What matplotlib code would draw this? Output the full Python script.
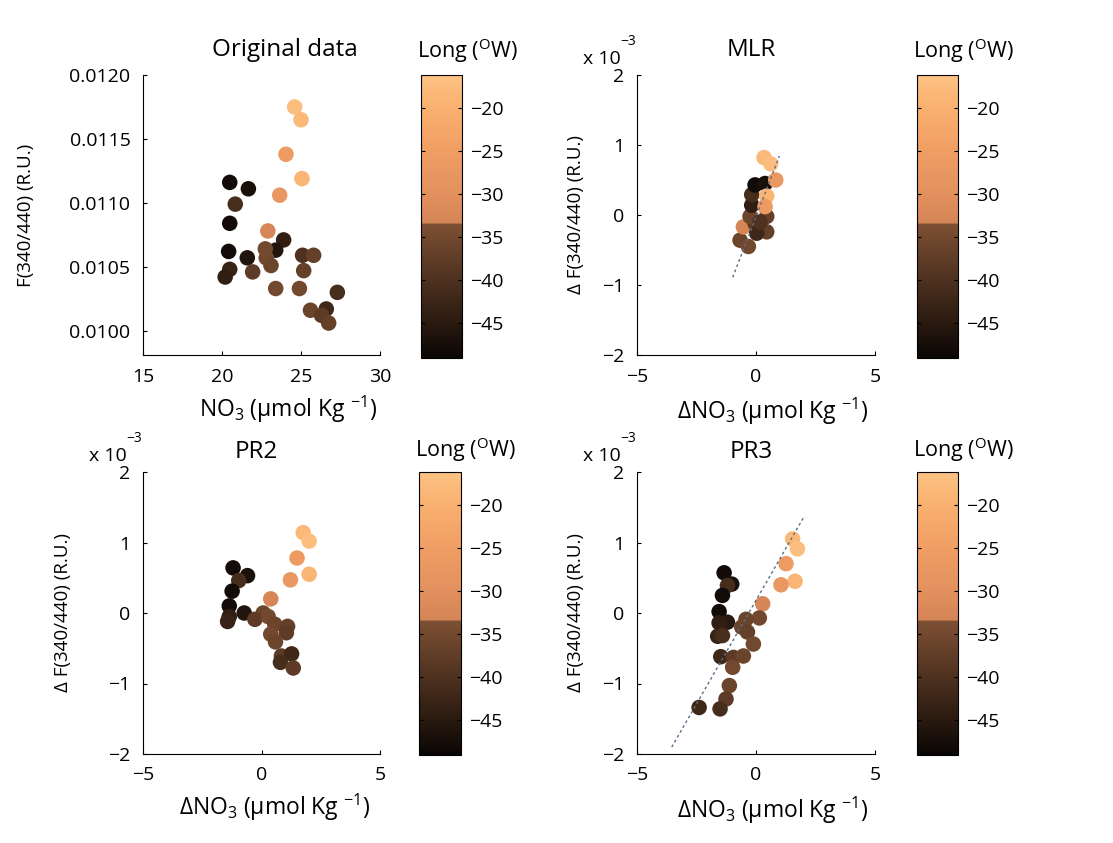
import numpy as np
import matplotlib
matplotlib.use("Agg")
import matplotlib.pyplot as plt
from matplotlib.colors import LinearSegmentedColormap

plt.rcParams["font.family"] = ["Open Sans", "DejaVu Sans"]
plt.rcParams["mathtext.default"] = "regular"
plt.rcParams["font.size"] = 14

# --- Original data: nitrate vs fluorescence ratio, coloured by longitude
no3_orig = [24.6, 25.0, 24.05, 25.06, 23.65, 20.49, 21.67, 20.84, 20.49, 22.9,
            23.9, 23.4, 22.74, 20.42, 22.8, 21.6, 23.1, 25.1, 25.8, 25.17,
            20.49, 20.2, 21.94, 23.4, 24.9, 27.3, 25.6, 26.6, 26.3, 26.75]
f_orig = [0.01175, 0.01165, 0.01138, 0.01119, 0.01106, 0.01116, 0.01111, 0.01099,
          0.01084, 0.01078, 0.01071, 0.01063, 0.01064, 0.01062, 0.01057, 0.01057,
          0.01051, 0.01059, 0.01059, 0.01047, 0.01048, 0.01042, 0.01046, 0.01033,
          0.01033, 0.01030, 0.01016, 0.01017, 0.01012, 0.01006]
lon_orig = [-17, -18, -26, -19, -27, -48, -47, -41, -48, -33, -44, -46, -35, -48, -35,
            -46, -36, -40, -37, -37, -43, -44, -38, -35, -35, -41, -36, -42, -38, -37]

# --- MLR residuals (x1e-3 for fluorescence)
dno3_mlr = [-0.67, -0.32, -0.53, -0.04, 0.45, -0.25, 0.45, 0.03, 0.17, -0.18,
            -0.18, -0.04, 0.38, 0.45, 0.38, 0.83, 0.34, 0.62]
df_mlr = [-0.36, -0.45, -0.17, -0.12, -0.24, -0.02, -0.02, -0.26, -0.10, 0.14,
          0.29, 0.43, 0.45, 0.27, 0.12, 0.50, 0.82, 0.73]
lon_mlr = [-36, -35, -33, -38, -37, -36, -37, -42, -40, -44,
           -41, -48, -47, -19, -26, -27, -18, -17]
mlr_fit = (0.883, -0.025)        # slope, intercept
mlr_fit_x = (-0.98, 0.98)

# --- PR2 residuals
dno3_pr2 = [1.76, 2.01, 1.5, 2.01, 1.22, -1.2, -0.59, -0.96, -1.24, 0.39, -1.36, -0.73,
            -1.36, -1.43, 0.07, -0.28, 0.28, 0.56, 1.1, 1.05, 0.39, 0.59, 0.84, 1.27,
            0.8, 1.34]
df_pr2 = [1.14, 1.02, 0.78, 0.55, 0.47, 0.64, 0.53, 0.46, 0.31, 0.20, 0.10, 0.0,
          -0.05, -0.12, 0.0, -0.09, -0.05, -0.16, -0.19, -0.28, -0.30, -0.41, -0.61,
          -0.58, -0.70, -0.78]
lon_pr2 = [-18, -17, -26, -19, -27, -48, -47, -41, -48, -33, -48, -46, -44, -43, -36,
           -38, -35, -36, -37, -38, -35, -36, -38, -42, -41, -38]

# --- PR3 residuals
dno3_pr3 = [1.54, 1.74, 1.26, 1.64, 1.05, -1.34, -1.02, -1.2, -1.41, 0.28, -1.55, -1.2,
            -1.55, 0.14, -0.42, -0.6, -0.36, -1.61, -1.41, -0.11, -1.48, -0.95, -0.53,
            -0.98, -1.12, -1.26, -2.39, -1.51]
df_pr3 = [1.05, 0.91, 0.70, 0.45, 0.40, 0.57, 0.41, 0.39, 0.25, 0.13, 0.02, -0.13,
          -0.14, -0.07, -0.09, -0.20, -0.27, -0.33, -0.32, -0.44, -0.62, -0.63, -0.61,
          -0.77, -1.03, -1.22, -1.34, -1.36]
lon_pr3 = [-18, -17, -26, -19, -27, -48, -47, -41, -48, -33, -48, -45, -44, -35, -36,
           -36, -37, -43, -41, -35, -42, -38, -36, -35, -36, -38, -42, -41]
pr3_fit = (0.588, 0.18)
pr3_fit_x = (-3.54, 1.99)

LON_LIM = (-49.1, -16.2)
CB_TICKS = [-45, -40, -35, -30, -25, -20]

# copper-like map with the brighter upper half used for the eastern stations
_anchors = [(-49.1, (10, 6, 4)), (-45, (42, 26, 16)), (-40, (78, 49, 31)),
            (-33.6, (125, 80, 52)), (-33.4, (212, 133, 86)), (-30, (226, 144, 94)),
            (-25, (240, 158, 100)), (-20, (249, 176, 112)), (-16.2, (252, 194, 130))]
cmap = LinearSegmentedColormap.from_list(
    "long_copper",
    [((v - LON_LIM[0]) / (LON_LIM[1] - LON_LIM[0]), tuple(c / 255 for c in rgb))
     for v, rgb in _anchors])

W, H = 1113, 843
fig = plt.figure(figsize=(W / 100, H / 100), dpi=100)

TITLE_FS, XLAB_FS, YLAB_FS, CBLAB_FS = 17.5, 16.5, 13.5, 15.5


def px_axes(x0, y0, x1, y1):
    return fig.add_axes([x0 / W, 1 - y1 / H, (x1 - x0) / W, (y1 - y0) / H])


def style(ax):
    for s in ("top", "right"):
        ax.spines[s].set_visible(False)
    for s in ("left", "bottom"):
        ax.spines[s].set_linewidth(0.8)
    ax.tick_params(direction="in", length=3, width=0.8, pad=9, labelsize=14)


def add_colorbar(sc, x0, y0, x1, y1, lab_off):
    cax = px_axes(x0, y0, x1, y1)
    cb = fig.colorbar(sc, cax=cax, ticks=CB_TICKS)
    cb.outline.set_linewidth(0.8)
    cax.tick_params(direction="in", length=3, width=0.8, left=True, right=True,
                    labelsize=14, pad=6)
    cax.annotate("Long ($^{O}$W)", xy=(0, 1), xycoords="axes fraction",
                 xytext=(-3, lab_off), textcoords="offset points",
                 ha="left", va="baseline", fontsize=CBLAB_FS)
    return cb


def exp_label(ax):
    ax.annotate("x 10", xy=(0, 1), xycoords="axes fraction", xytext=(-12, 8),
                textcoords="offset points", ha="right", va="baseline", fontsize=14)
    ax.annotate("\u22123", xy=(0, 1), xycoords="axes fraction", xytext=(-12, 24),
                textcoords="offset points", ha="left", va="center", fontsize=10)


def scatter(ax, x, y, c):
    return ax.scatter(x, y, c=c, cmap=cmap, vmin=LON_LIM[0], vmax=LON_LIM[1],
                      s=125, linewidths=0, zorder=3)


dx_label = "\u0394NO$_3$ (\u03bcmol Kg $^{-1}$)"
dy_label = "\u0394 F(340/440) (R.U.)"

# Original data
ax1 = px_axes(143, 75, 380, 355)
sc = scatter(ax1, no3_orig, f_orig, lon_orig)
ax1.set_xlim(15, 30)
ax1.set_ylim(0.00981, 0.0120)
ax1.set_xticks([15, 20, 25, 30])
ax1.set_yticks([0.0100, 0.0105, 0.0110, 0.0115, 0.0120])
ax1.set_yticklabels([f"{v:.4f}" for v in [0.0100, 0.0105, 0.0110, 0.0115, 0.0120]])
ax1.set_title("Original data", fontsize=TITLE_FS, pad=14, x=0.6)
ax1.set_xlabel("NO$_3$ (\u03bcmol Kg $^{-1}$)", fontsize=XLAB_FS)
ax1.set_ylabel("F(340/440) (R.U.)", fontsize=YLAB_FS)
ax1.xaxis.set_label_coords(0.612, -0.14)
ax1.yaxis.set_label_coords(-0.456, 0.5)
style(ax1)
add_colorbar(sc, 421, 75, 462, 358, 12)

panels = [
    ((637, 75, 875, 355), (917, 75, 958, 358), "MLR", dno3_mlr, df_mlr, lon_mlr,
     mlr_fit, mlr_fit_x, 14, 12),
    ((143, 472, 380, 754), (419, 472, 461, 755), "PR2", dno3_pr2, df_pr2, lon_pr2,
     None, None, 10, 11),
    ((637, 472, 875, 754), (917, 472, 958, 755), "PR3", dno3_pr3, df_pr3, lon_pr3,
     pr3_fit, pr3_fit_x, 10, 11),
]

for box, cbox, title, x, y, lon, fit, fit_x, tpad, cpad in panels:
    ax = px_axes(*box)
    sc = scatter(ax, x, y, lon)
    if fit is not None:
        xs = np.array(fit_x)
        ax.plot(xs, fit[0] * xs + fit[1], linestyle=(0, (2, 2)), lw=1,
                color="#5a6f8c", zorder=4)
    ax.set_xlim(-5, 5)
    ax.set_ylim(-2, 2)
    ax.set_xticks([-5, 0, 5])
    ax.set_yticks([-2, -1, 0, 1, 2])
    ax.set_title(title, fontsize=TITLE_FS, pad=tpad, x=0.48)
    ax.set_xlabel(dx_label, fontsize=XLAB_FS)
    ax.set_ylabel(dy_label, fontsize=YLAB_FS)
    if box[0] < 500:
        ax.xaxis.set_label_coords(0.557, -0.135)
        ax.yaxis.set_label_coords(-0.30, 0.5)
    else:
        ax.xaxis.set_label_coords(0.57, -0.145)
        ax.yaxis.set_label_coords(-0.218, 0.5)
    style(ax)
    exp_label(ax)
    add_colorbar(sc, *cbox, cpad)

fig.savefig("out.png", dpi=100)
